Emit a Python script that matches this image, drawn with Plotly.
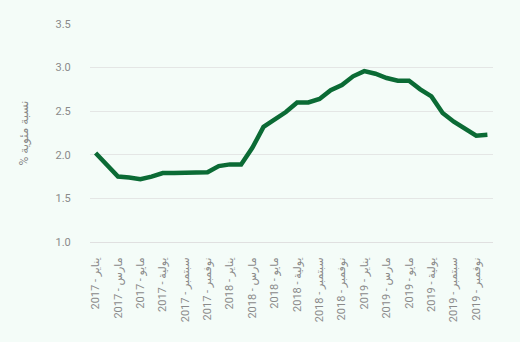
import plotly.graph_objects as go

months = ["يناير", "فبراير", "مارس", "أبريل", "مايو", "يونيو",
          "يولية", "أغسطس", "سبتمبر", "أكتوبر", "نوفمبر", "ديسمبر"]
years = [2017, 2018, 2019]
categories = [f"{m} - {y}" for y in years for m in months]

values = [2.02, 1.88, 1.75, 1.74, 1.72, 1.75, 1.79, 1.79, 1.79, 1.79, 1.80, 1.87,
          1.89, 1.89, 2.08, 2.32, 2.41, 2.49, 2.60, 2.60, 2.64, 2.74, 2.80, 2.90,
          2.96, 2.93, 2.88, 2.85, 2.85, 2.75, 2.67, 2.48, 2.38, 2.30, 2.22, 2.23]

tick_labels = categories[::2]
y_title = "نسبة مئوية %"

bg = "#f4fcf8"
fig = go.Figure()
fig.add_trace(go.Scatter(
    x=categories, y=values, mode="lines",
    line=dict(color="#0b6b35", width=4.5),
    hoverinfo="skip",
))
fig.update_layout(
    width=520, height=342,
    margin=dict(l=90, r=27, t=24, b=100),
    paper_bgcolor=bg, plot_bgcolor=bg,
    showlegend=False,
    font=dict(family="Roboto, DejaVu Sans, sans-serif", color="#8a8a8a", size=11),
)
fig.update_xaxes(
    type="category",
    range=[-0.5, 35.5],
    tickmode="array", tickvals=tick_labels, ticktext=tick_labels,
    tickangle=-90,
    showgrid=False,
    showline=True, linecolor="#e0e0e0", linewidth=1,
    ticks="outside", ticklen=10, tickcolor="rgba(0,0,0,0)",
    tickfont=dict(size=11, color="#8a8a8a"),
)
fig.update_yaxes(
    range=[1.0, 3.5],
    tickvals=[1.0, 1.5, 2.0, 2.5, 3.0, 3.5],
    tickformat=".1f",
    showgrid=True, gridcolor="#e4e6e5", gridwidth=1,
    zeroline=False,
    ticks="outside", ticklen=16, tickcolor="rgba(0,0,0,0)",
    tickfont=dict(size=11, color="#8a8a8a"),
    title=dict(text=y_title + "\u200f", standoff=24, font=dict(size=12, color="#8a8a8a")),
)
fig.write_html("out.html")
